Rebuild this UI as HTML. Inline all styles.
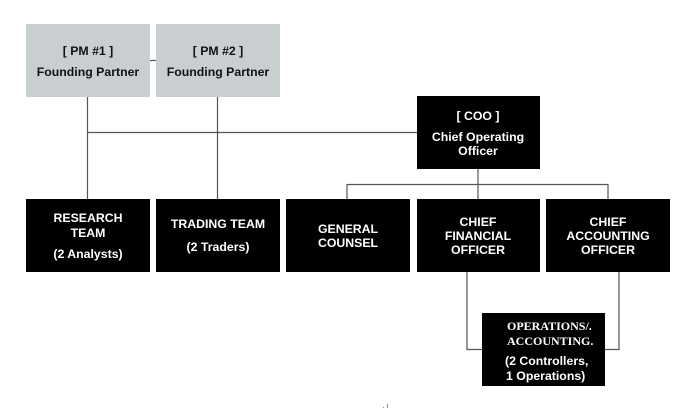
<!DOCTYPE html>
<html>
<head>
<meta charset="utf-8">
<style>
html,body{margin:0;padding:0;background:#fff;}
svg{display:block;}
text{font-family:"Liberation Sans",Arial,sans-serif;font-weight:bold;font-size:12.3px;text-anchor:middle;}
.w{fill:#fff;}
.k{fill:#111;}
.s{font-family:"Liberation Serif","Times New Roman",serif;font-size:12px;text-anchor:start;}
.l{text-anchor:start;}
</style>
</head>
<body>
<svg width="683" height="409" viewBox="0 0 683 409" xmlns="http://www.w3.org/2000/svg">
  <g stroke="#555" stroke-width="1.2" fill="none">
    <line x1="150" y1="60.5" x2="156" y2="60.5"/>
    <line x1="87.5" y1="97" x2="87.5" y2="199"/>
    <line x1="217.5" y1="97" x2="217.5" y2="199"/>
    <line x1="87.5" y1="132.5" x2="417" y2="132.5"/>
    <line x1="478" y1="169" x2="478" y2="199"/>
    <line x1="347" y1="184.5" x2="608" y2="184.5"/>
    <line x1="347" y1="184" x2="347" y2="199"/>
    <line x1="608" y1="184" x2="608" y2="199"/>
    <polyline points="467,272 467,349.5 482,349.5"/>
    <polyline points="619,272 619,349.5 605,349.5"/>
  </g>
  <!-- top gray boxes -->
  <rect x="26" y="24" width="124" height="73" fill="#c9cfd1"/>
  <rect x="156" y="24" width="124" height="73" fill="#c9cfd1"/>
  <text class="k" x="88" y="55">[ PM #1 ]</text>
  <text class="k" x="88" y="76">Founding Partner</text>
  <text class="k" x="218" y="55">[ PM #2 ]</text>
  <text class="k" x="218" y="76">Founding Partner</text>
  <!-- COO -->
  <rect x="417" y="96" width="123" height="73" fill="#000"/>
  <text class="w" x="478" y="120">[ COO ]</text>
  <text class="w" x="478" y="141">Chief Operating</text>
  <text class="w" x="478" y="155">Officer</text>
  <!-- bottom row -->
  <rect x="26" y="199" width="124" height="73" fill="#000"/>
  <rect x="156" y="199" width="124" height="73" fill="#000"/>
  <rect x="286" y="199" width="124" height="73" fill="#000"/>
  <rect x="417" y="199" width="123" height="73" fill="#000"/>
  <rect x="546" y="199" width="124" height="73" fill="#000"/>
  <text class="w" x="88" y="222">RESEARCH</text>
  <text class="w" x="88" y="237">TEAM</text>
  <text class="w" x="88" y="258">(2 Analysts)</text>
  <text class="w" x="218" y="228">TRADING TEAM</text>
  <text class="w" x="218" y="251">(2 Traders)</text>
  <text class="w" x="348" y="233">GENERAL</text>
  <text class="w" x="348" y="247">COUNSEL</text>
  <text class="w" x="478" y="226">CHIEF</text>
  <text class="w" x="478" y="240">FINANCIAL</text>
  <text class="w" x="478" y="254">OFFICER</text>
  <text class="w" x="608" y="226">CHIEF</text>
  <text class="w" x="608" y="240">ACCOUNTING</text>
  <text class="w" x="608" y="254">OFFICER</text>
  <!-- operations -->
  <rect x="482" y="313" width="123" height="73" fill="#000"/>
  <text class="w s" x="507" y="330">OPERATIONS/.</text>
  <text class="w s" x="507" y="345">ACCOUNTING.</text>
  <text class="w l" x="505" y="365">(2 Controllers,</text>
  <text class="w l" x="506" y="380">1 Operations)</text>
  <!-- stray marks -->
  <rect x="383" y="407" width="1" height="1" fill="#888"/>
  <rect x="387" y="404" width="1" height="4" fill="#888"/>
</svg>
</body>
</html>
